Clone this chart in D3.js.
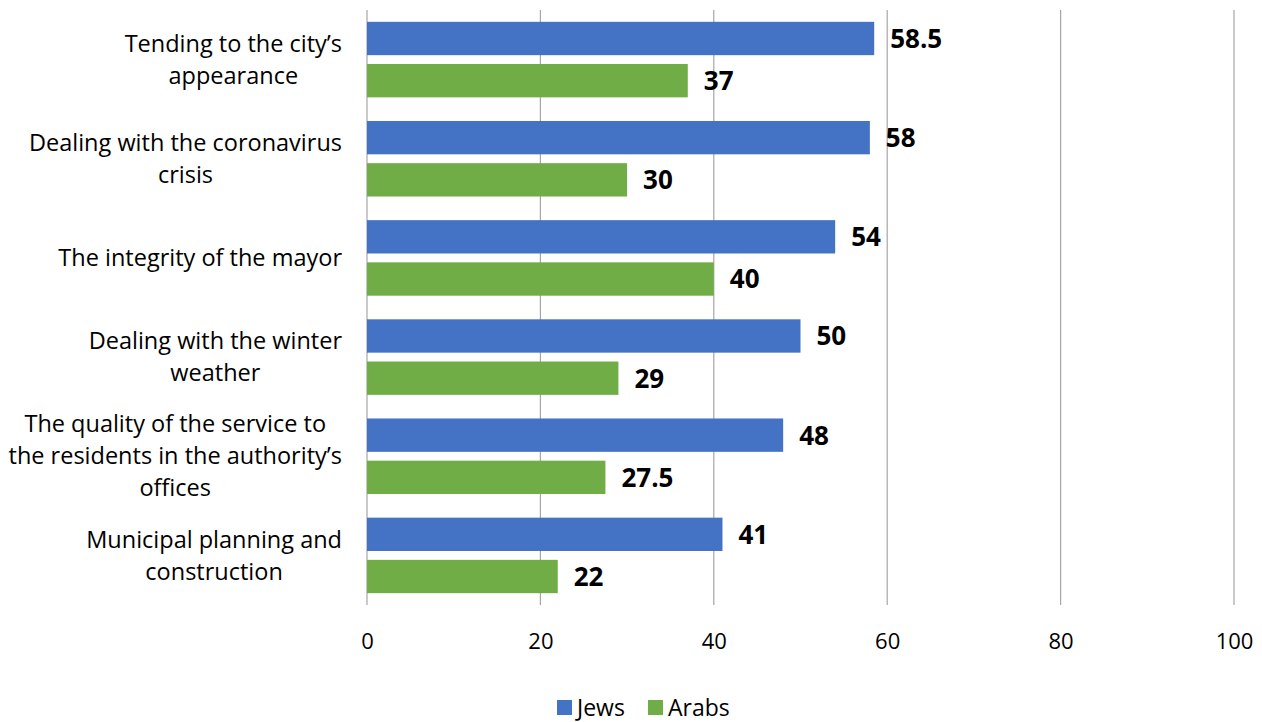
<!DOCTYPE html>
<html>
<head>
<meta charset="utf-8">
<script src="https://cdn.jsdelivr.net/npm/d3@7"></script>
<style>
  html, body { margin: 0; padding: 0; background: #fff; }
  svg text { font-family: "Open Sans", Lato, sans-serif; fill: #000; }
</style>
</head>
<body>
<svg id="chart" width="1262" height="722"></svg>
<script>
// Satisfaction topics and results per population group
const categories = [
  ["Tending to the city\u2019s", "appearance"],
  ["Dealing with the coronavirus", "crisis"],
  ["The integrity of the mayor"],
  ["Dealing with the winter", "weather"],
  ["The quality of the service to", "the residents in the authority\u2019s", "offices"],
  ["Municipal planning and", "construction"]
];
const jews = [58.5, 58, 54, 50, 48, 41];
const arabs = [37, 30, 40, 29, 27.5, 22];
const seriesNames = ["Jews", "Arabs"];
const seriesColors = ["#4472C4", "#70AD47"];
const xTicks = [0, 20, 40, 60, 80, 100];

const svg = d3.select("#chart");
const plotLeft = 367, plotRight = 1234, plotTop = 10, plotBottom = 605;

const x = d3.scaleLinear().domain([0, 100]).range([plotLeft, plotRight]);
const y = d3.scaleBand().domain(d3.range(categories.length)).range([plotTop, plotBottom]).paddingInner(0).paddingOuter(0);
const inner = d3.scaleBand().domain([0, 1]).range([0, y.bandwidth()]).paddingInner(0.21).paddingOuter(0.28);

// vertical gridlines
svg.append("g").selectAll("line").data(xTicks).join("line")
  .attr("x1", d => x(d)).attr("x2", d => x(d))
  .attr("y1", plotTop).attr("y2", plotBottom)
  .attr("stroke", "#a6a6a6").attr("stroke-width", 1.2);

// x axis tick labels
const xAxis = d3.axisBottom(x).tickValues(xTicks).tickSize(0).tickPadding(0);
const gx = svg.append("g").attr("transform", `translate(0,${plotBottom})`).call(xAxis);
gx.select(".domain").remove();
gx.selectAll("text")
  .attr("y", 44).attr("dy", null)
  .style("font-family", "'Open Sans', Lato, sans-serif")
  .style("font-size", "22px").attr("fill", "#000");

// bars
const rows = categories.map((c, i) => ({ i, vals: [jews[i], arabs[i]] }));
const groups = svg.append("g").selectAll("g").data(rows).join("g")
  .attr("transform", d => `translate(0,${y(d.i)})`);

groups.selectAll("rect").data(d => d.vals.map((v, k) => ({ v, k }))).join("rect")
  .attr("x", x(0))
  .attr("y", d => inner(d.k))
  .attr("width", d => x(d.v) - x(0))
  .attr("height", inner.bandwidth())
  .attr("fill", d => seriesColors[d.k]);

groups.selectAll("text.val").data(d => d.vals.map((v, k) => ({ v, k }))).join("text")
  .attr("class", "val")
  .attr("x", d => x(d.v) + 16)
  .attr("y", d => inner(d.k) + inner.bandwidth() / 2)
  .attr("dy", "0.36em")
  .style("font-size", "26px").style("font-weight", "bold")
  .text(d => d.v);

// category labels, wrapped and centred as a block ending at the axis
const labelRight = 342, lineH = 32;
const catG = svg.append("g").selectAll("g").data(categories).join("g");
catG.each(function(lines, i) {
  const g = d3.select(this);
  const texts = lines.map(l => g.append("text").style("font-size", "23.5px").attr("text-anchor", "middle").text(l));
  const maxW = d3.max(texts, t => t.node().getComputedTextLength());
  const cx = labelRight - maxW / 2;
  const cy = y(i) + y.bandwidth() / 2;
  const startY = cy - (lines.length - 1) * lineH / 2;
  texts.forEach((t, j) => t.attr("x", cx).attr("y", startY + j * lineH).attr("dy", "0.35em"));
});

// legend
const legend = svg.append("g").attr("transform", "translate(557,708)");
const itemX = [0, 91];
seriesNames.forEach((name, k) => {
  const it = legend.append("g").attr("transform", `translate(${itemX[k]},0)`);
  it.append("rect").attr("x", 0).attr("y", -8).attr("width", 15).attr("height", 15).attr("fill", seriesColors[k]);
  it.append("text").attr("x", 20).attr("y", 0).attr("dy", "0.35em").style("font-size", "23px").text(name);
});
</script>
</body>
</html>
